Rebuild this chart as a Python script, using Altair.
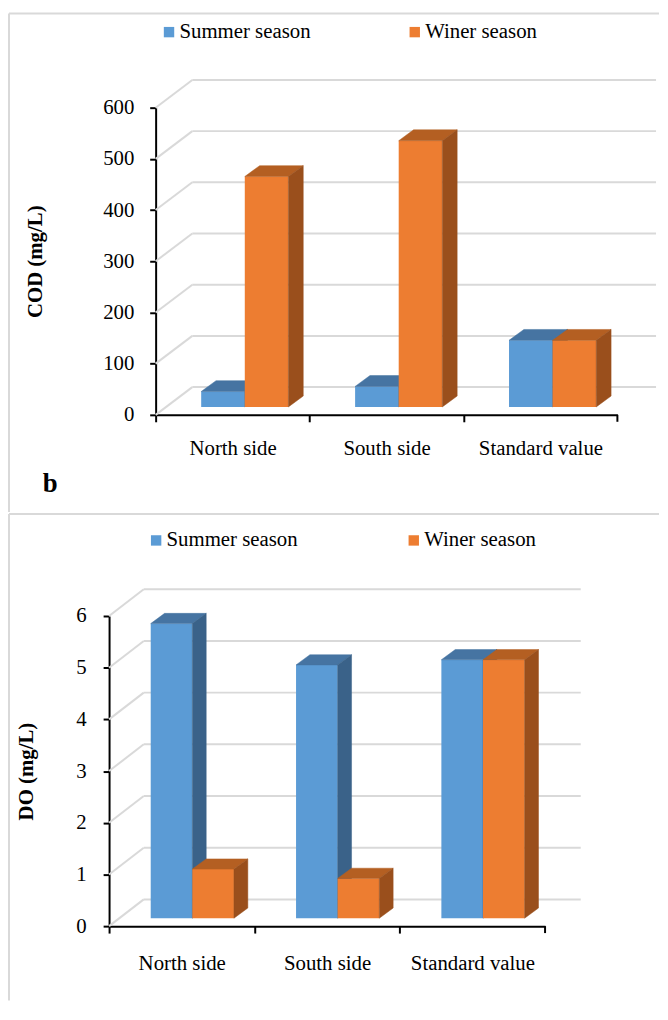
import json
import altair as alt
import pandas as pd

# ---------------- data ----------------
categories = ["North side", "South side", "Standard value"]
series = ["Summer season", "Winer season"]
cod_summer = [30, 40, 130]
cod_winter = [450, 520, 130]
do_summer = [5.7, 4.9, 5.0]
do_winter = [0.95, 0.77, 5.0]
cod_ticks = [0, 100, 200, 300, 400, 500, 600]
do_ticks = [0, 1, 2, 3, 4, 5, 6]

# ---------------- style ----------------
FONT = "Liberation Serif"
front_colors = ["#5B9BD5", "#ED7D31"]
top_colors = ["#4674A2", "#B45F22"]
side_colors = ["#3A6289", "#9A4F1C"]
GRID = "#D9D9D9"
ORIGIN_X = 157  # common plot origin (page px) shared by both panels


def panel(summer, winter, ticks, ytitle, g):
    W, H = g["W"], g["H"]
    shift = g["x0"] - ORIGIN_X           # negative for the lower panel
    right = shift + W
    ymax = ticks[-1]
    n = len(categories)
    ux = W / n
    uy = H / ymax
    bw = g["bar_w"] / ux
    fx = g["fx"] / ux
    fy = g["fy"] / uy
    dx = g["dx"] / ux
    dy = g["dy"] / uy
    DX = g["DX"] / ux
    DY = g["DY"] / uy
    xend = g["xend"] / ux

    xaxis = alt.Axis(
        values=list(range(n)),
        labelExpr=json.dumps(categories) + "[datum.value]",
        labelOffset=ux / 2, labelAngle=0, labelFlush=False, labelOverlap=False,
        labelFont=FONT, labelFontSize=g["fs"], labelColor="black",
        labelPadding=g["xlabpad"], labelBaseline="top",
        tickSize=7, tickWidth=2, tickColor="black",
        domainColor="black", domainWidth=2, grid=False, title=None,
    )
    yaxis = alt.Axis(
        values=ticks, tickSize=6, tickWidth=2, tickColor="black",
        domainColor="black", domainWidth=2, grid=False, offset=-shift,
        labelFont=FONT, labelFontSize=g["fs"], labelColor="black",
        labelPadding=g["ylabpad"],
        title=ytitle, titleFont=FONT, titleFontSize=g["fs"], titleFontWeight="bold",
        titleColor="black", titlePadding=g["titlepad"],
    )
    xs = alt.Scale(domain=[0, n], range=[shift, right], nice=False, zero=False)
    ys = alt.Scale(domain=[0, ymax], nice=False, zero=False)
    X = alt.X("x:Q", scale=xs, axis=xaxis, stack=None)
    Y = alt.Y("y:Q", scale=ys, axis=yaxis, stack=None)

    # back-wall grid: diagonals from axis and horizontal lines on the back wall
    diag = pd.DataFrame({"x": [0.0] * len(ticks), "x2": [DX] * len(ticks),
                         "y": ticks, "y2": [t + DY for t in ticks]})
    horiz = pd.DataFrame({"x": [DX] * len(ticks), "x2": [xend] * len(ticks),
                          "y": [t + DY for t in ticks]})
    endtick = pd.DataFrame({"x": [float(n)]})
    layers = [
        alt.Chart(diag).mark_rule(color=GRID, strokeWidth=2).encode(
            x=X, x2="x2:Q", y=Y, y2="y2:Q"),
        alt.Chart(horiz).mark_rule(color=GRID, strokeWidth=2).encode(
            x=X, x2="x2:Q", y=Y),
        alt.Chart(endtick).mark_rule(color="black", strokeWidth=2).encode(
            x=X, y=alt.value(H), y2=alt.value(H + 7)),
    ]

    values = [summer, winter]
    for j, s in enumerate(series):
        front = []
        faces = []
        for i, c in enumerate(categories):
            v = values[j][i]
            x0 = i + 0.5 - bw + fx + j * bw
            x1 = x0 + bw
            front.append({"x": x0, "x2": x1, "y": fy, "y2": v + fy, "series": s})
            top = pd.DataFrame({"y": [v + fy, v + fy + dy], "x": [x0, x0 + dx],
                                "x2": [x1, x1 + dx]})
            side = pd.DataFrame({"x": [x1, x1 + dx], "y": [fy, fy + dy],
                                 "y2": [v + fy, v + fy + dy]})
            faces.append(alt.Chart(top).mark_area(
                orient="horizontal", color=top_colors[j], stroke=top_colors[j],
                strokeWidth=0.5).encode(y=Y, x=X, x2="x2:Q"))
            faces.append(alt.Chart(side).mark_area(
                orient="vertical", color=side_colors[j], stroke=side_colors[j],
                strokeWidth=0.5).encode(x=X, y=Y, y2="y2:Q"))
        legend = alt.Legend(
            orient="none", legendX=g["legX"] - ORIGIN_X, legendY=g["legY"],
            direction="horizontal",
            title=None, symbolType="square", symbolSize=110, symbolStrokeWidth=0,
            labelFont=FONT, labelFontSize=g["fs"], labelColor="black", labelOffset=0,
            columnPadding=g["legGap"], padding=0,
        )
        layers.append(
            alt.Chart(pd.DataFrame(front)).mark_bar(strokeWidth=0).encode(
                x=X, x2="x2:Q", y=Y, y2="y2:Q",
                color=alt.Color("series:N", scale=alt.Scale(domain=series, range=front_colors),
                                legend=legend)))
        layers += faces

    # panel frame lines (page x 9 .. 665)
    one = pd.DataFrame({"k": [0]})
    T, E = g["frame"]
    L, R = 9 - ORIGIN_X, 665 - ORIGIN_X
    layers += [
        alt.Chart(one).mark_rule(color=GRID, strokeWidth=2).encode(
            x=alt.value(L), x2=alt.value(R), y=alt.value(T)),
        alt.Chart(one).mark_rule(color=GRID, strokeWidth=2).encode(
            x=alt.value(L), y=alt.value(T), y2=alt.value(E)),
    ]
    if g.get("tag"):
        tx, ty = g["tagpos"]
        layers.append(
            alt.Chart(pd.DataFrame({"t": [g["tag"]]})).mark_text(
                align="left", baseline="alphabetic", font=FONT, fontSize=27,
                fontWeight="bold", color="black").encode(
                text="t:N", x=alt.value(tx - ORIGIN_X), y=alt.value(ty)))
    return alt.layer(*layers).properties(width=max(right, 1), height=H)


top_geo = dict(x0=157, W=466, H=310, bar_w=44, fx=12.3, fy=8, dx=15, dy=11, DX=37, DY=28,
               xend=505, fs=21, xlabpad=16, ylabpad=16, titlepad=58,
               legX=160, legY=-87, legGap=94,
               frame=(-95, 408), tag="b", tagpos=(43, 388))
bot_geo = dict(x0=110, W=440, H=313, bar_w=42, fx=10.7, fy=8, dx=14, dy=10.3, DX=35, DY=27,
               xend=476, fs=21, xlabpad=20, ylabpad=17, titlepad=40,
               legX=147, legY=-87, legGap=106,
               frame=(-103, 388))

top = panel(cod_summer, cod_winter, cod_ticks, "COD (mg/L)", top_geo)
bottom = panel(do_summer, do_winter, do_ticks, "DO (mg/L)", bot_geo)

chart = alt.vconcat(top, bottom, spacing=0).resolve_scale(
    color="independent", x="independent", y="independent"
).properties(
    padding={"left": 0, "top": 0, "right": 0, "bottom": 0}, background="white"
).configure_view(stroke=None)

chart.save("out.html", embed_options={"renderer": "svg", "actions": False})
